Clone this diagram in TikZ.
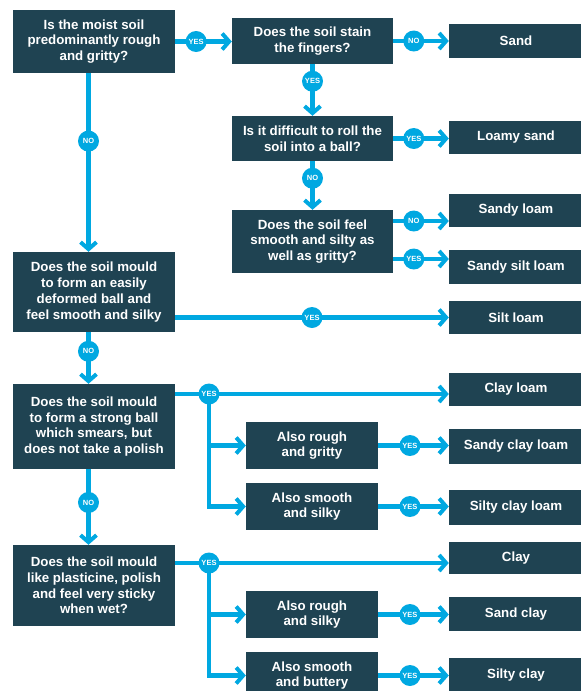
\documentclass[tikz,border=0pt]{standalone}
\usepackage{fontspec}
\setmainfont{Liberation Sans}
\usetikzlibrary{arrows.meta}
\definecolor{boxblue}{HTML}{1F4352}
\definecolor{flowcyan}{HTML}{00A8E1}

\begin{document}
\begin{tikzpicture}[x=1pt,y=-1pt,
  box/.style={rectangle,fill=boxblue,text=white,inner sep=0pt,align=center,
    font=\fontsize{13.3}{15.8}\selectfont\bfseries},
  question/.style={box,minimum width=162pt},
  also/.style={box,minimum width=132pt,minimum height=47pt},
  soil/.style={box,minimum width=134pt,minimum height=34pt},
  flow/.style={draw=flowcyan,line width=4.5pt,
    -{Straight Barb[length=7pt,width=16pt,line width=4pt]}},
  badge/.style={circle,fill=flowcyan,text=white,inner sep=0pt,minimum size=21pt,
    font=\fontsize{7.5}{8}\selectfont\bfseries}]

  \useasboundingbox (0,0) rectangle (581,691);
  \clip (0,0) rectangle (581,691);

  % questions
  \node[question,minimum height=63pt] (q1) at (94,41.5) {Is the moist soil\\predominantly rough\\and gritty?};
  \node[question,minimum width=161pt,minimum height=46pt] (q2) at (312.5,41) {Does the soil stain\\the fingers?};
  \node[question,minimum width=161pt,minimum height=45pt] (q3) at (312.5,138.5) {Is it difficult to roll the\\soil into a ball?};
  \node[question,minimum width=161pt,minimum height=63pt] (q4) at (312.5,241.5) {Does the soil feel\\smooth and silty as\\well as gritty?};
  \node[question,minimum height=80pt] (q5) at (94,292) {Does the soil mould\\to form an easily\\deformed ball and\\feel smooth and silky};
  \node[question,minimum height=85pt] (q6) at (94,426.5) {Does the soil mould\\to form a strong ball\\which smears, but\\does not take a polish};
  \node[question,minimum height=81pt] (q7) at (94,585.5) {Does the soil mould\\like plasticine, polish\\and feel very sticky\\when wet?};

  \node[also] (roughgritty) at (312,445.5) {Also rough\\and gritty};
  \node[also] (smoothsilky) at (312,506.5) {Also smooth\\and silky};
  \node[also] (roughsilky) at (312,614.5) {Also rough\\and silky};
  \node[also] (smoothbuttery) at (312,675.5) {Also smooth\\and buttery};

  % soil types
  \node[soil] (sand) at (516,40.5) {Sand};
  \node[soil,minimum height=33pt] (loamysand) at (516,137.5) {Loamy sand};
  \node[soil,minimum height=33pt] (sandyloam) at (516,210.5) {Sandy loam};
  \node[soil] (sandysiltloam) at (516,267) {Sandy silt loam};
  \node[soil,minimum height=33pt] (siltloam) at (516,317.5) {Silt loam};
  \node[soil,minimum height=33pt] (clayloam) at (516,389.5) {Clay loam};
  \node[soil,minimum height=35pt] (sandyclayloam) at (516,446.5) {Sandy clay loam};
  \node[soil,minimum height=35pt] (siltyclayloam) at (516,507.5) {Silty clay loam};
  \node[soil,minimum height=32pt] (clay) at (516,558) {Clay};
  \node[soil] (sandclay) at (516,614) {Sand clay};
  \node[soil] (siltyclay) at (516,675) {Silty clay};

  \coordinate (j6) at (209,394);
  \coordinate (j7) at (209,563);

  \draw[flow] (q1) -- node[badge,pos=.37] (b1) {YES} (q1 -| q2.west);
  \draw[flow] ([xshift=-5.5pt]q1.south) -- node[badge,pos=.38] (b2) {NO} ([xshift=-5.5pt]q5.north);
  \draw[flow] (q2) -- node[badge,pos=.37] (b3) {NO} (q2 -| sand.west);
  \draw[flow] (q2) -- node[badge,pos=.33] (b4) {YES} (q3);
  \draw[flow] (q3) -- node[badge,pos=.37] (b5) {YES} (q3 -| loamysand.west);
  \draw[flow] (q3) -- node[badge,pos=.35] (b6) {NO} (q4);
  \draw[flow] ([yshift=20.5pt]q4.east) -- node[badge,pos=.37] (b7) {NO} ([yshift=20.5pt]q4.east -| sandyloam.west);
  \draw[flow] ([yshift=-17.5pt]q4.east) -- node[badge,pos=.37] (b8) {YES} ([yshift=-17.5pt]q4.east -| sandysiltloam.west);
  \draw[flow] (siltloam -| q5.east) -- node[badge,pos=.5] (b9) {YES} (siltloam);
  \draw[flow] ([xshift=-5.5pt]q5.south) -- node[badge,pos=.37] (b10) {NO} ([xshift=-5.5pt]q6.north);
  \draw[flow] ([xshift=-5.5pt]q6.south) -- node[badge,pos=.44] (b11) {NO} ([xshift=-5.5pt]q7.north);
  \draw[flow] (roughgritty) -- node[badge,pos=.45] (b12) {YES} (roughgritty -| sandyclayloam.west);
  \draw[flow] (smoothsilky) -- node[badge,pos=.45] (b13) {YES} (smoothsilky -| siltyclayloam.west);
  \draw[flow] (roughsilky) -- node[badge,pos=.45] (b14) {YES} (roughsilky -| sandclay.west);
  \draw[flow] (smoothbuttery) -- node[badge,pos=.45] (b15) {YES} (smoothbuttery -| siltyclay.west);

  % branches off the yes lines
  \draw[flow] (j6) |- (roughgritty);
  \draw[flow] (j6) |- (smoothsilky);
  \draw[flow] (j6 -| q6.east) -- (j6 -| clayloam.west);
  \draw[flow] (j7) |- (roughsilky);
  \draw[flow] (j7) |- (smoothbuttery);
  \draw[flow] (j7 -| q7.east) -- (j7 -| clay.west);
  \node[badge] (y6) at (j6) {YES};
  \node[badge] (y7) at (j7) {YES};
\end{tikzpicture}
\end{document}
